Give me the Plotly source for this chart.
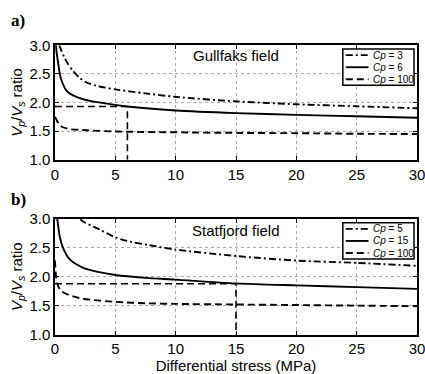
import plotly.graph_objects as go

# ---- Gullfaks field (panel a): Vp/Vs ratio versus differential stress ----
a_x_cp3 = [0.35, 0.5, 0.75, 1.0, 1.5, 2.0, 2.6, 3.5, 5.0, 7.5, 10, 15, 20, 25, 30]
a_y_cp3 = [3.00, 2.92, 2.80, 2.70, 2.55, 2.44, 2.35, 2.29, 2.23, 2.16, 2.10, 2.02, 1.97, 1.935, 1.90]

a_x_cp6 = [0.08, 0.15, 0.27, 0.4, 0.55, 0.95, 1.77, 3.1, 5.0, 6.0, 10, 15, 20, 25, 30]
a_y_cp6 = [3.00, 2.85, 2.68, 2.50, 2.38, 2.21, 2.10, 2.02, 1.96, 1.93, 1.86, 1.815, 1.785, 1.76, 1.735]

a_x_cp100 = [0.0, 0.1, 0.41, 1.09, 2.3, 5.0, 10, 15, 20, 25, 30]
a_y_cp100 = [1.75, 1.71, 1.60, 1.54, 1.52, 1.495, 1.48, 1.47, 1.465, 1.455, 1.45]

a_pick_stress = 6.0
a_pick_ratio = 1.93

# ---- Statfjord field (panel b) ----
b_x_cp5 = [2.1, 2.3, 3.67, 5.03, 6.38, 7.74, 10, 15, 20, 25, 30]
b_y_cp5 = [3.00, 2.96, 2.82, 2.68, 2.60, 2.55, 2.47, 2.36, 2.28, 2.24, 2.19]

b_x_cp15 = [0.19, 0.41, 0.68, 1.22, 2.3, 3.67, 5.0, 7.5, 10, 15, 20, 25, 30]
b_y_cp15 = [3.00, 2.68, 2.49, 2.30, 2.16, 2.08, 2.03, 1.98, 1.95, 1.885, 1.85, 1.82, 1.79]

b_x_cp100 = [0.0, 0.1, 0.3, 0.6, 1.2, 2.3, 5.0, 7.74, 10, 15, 20, 25, 30]
b_y_cp100 = [2.28, 1.98, 1.82, 1.74, 1.68, 1.62, 1.565, 1.54, 1.53, 1.52, 1.51, 1.50, 1.49]

b_pick_stress = 15.0
b_pick_ratio = 1.88

a_labels = ["<i>Cp</i> = 3", "<i>Cp</i> = 6", "<i>Cp</i> = 100"]
b_labels = ["<i>Cp</i> = 5", "<i>Cp</i> = 15", "<i>Cp</i> = 100"]

x_ticks = [0, 5, 10, 15, 20, 25, 30]
y_ticks = [1.0, 1.5, 2.0, 2.5, 3.0]

FONT = "Liberation Sans, Arial, sans-serif"
DASHDOT = "7px,3px,2px,3px"
DASH = "7px,4px"
LW = 1.9
STYLES = [DASHDOT, "solid", DASH]

W, H = 425, 374
L, R = 55, 4

fig = go.Figure()


def add_panel(xs, ys, labels, pick_x, pick_y, xa, ya):
    for x, y, name, dash in zip(xs, ys, labels, STYLES):
        fig.add_trace(go.Scatter(
            x=x, y=y, mode="lines", name=name, showlegend=False,
            line=dict(color="black", width=LW, dash=dash, shape="spline", smoothing=0.8),
            xaxis=xa, yaxis=ya,
        ))
    # picked stress / ratio guide lines
    fig.add_trace(go.Scatter(
        x=[0, pick_x, pick_x], y=[pick_y, pick_y, 1.0], mode="lines",
        line=dict(color="black", width=1.6, dash=DASH),
        xaxis=xa, yaxis=ya, showlegend=False, hoverinfo="skip",
    ))


add_panel([a_x_cp3, a_x_cp6, a_x_cp100], [a_y_cp3, a_y_cp6, a_y_cp100], a_labels,
          a_pick_stress, a_pick_ratio, "x", "y")
add_panel([b_x_cp5, b_x_cp15, b_x_cp100], [b_y_cp5, b_y_cp15, b_y_cp100], b_labels,
          b_pick_stress, b_pick_ratio, "x2", "y2")


def px_x(px):
    return (px - L) / (W - L - R)


def px_y(py):
    return 1 - py / H


def ydom(top, bottom):
    return [px_y(bottom), px_y(top)]


def add_key(labels, top, bottom):
    """Compact boxed key in the top-right corner of a panel."""
    fig.add_shape(type="rect", xref="paper", yref="paper",
                  x0=px_x(346), x1=px_x(418), y0=px_y(bottom), y1=px_y(top),
                  line=dict(color="black", width=1.5), fillcolor="white", layer="above")
    step = (bottom - top) / 3
    for i, (name, dash) in enumerate(zip(labels, STYLES)):
        yc = top + step * (i + 0.5)
        fig.add_shape(type="line", xref="paper", yref="paper",
                      x0=px_x(349), x1=px_x(372), y0=px_y(yc), y1=px_y(yc),
                      line=dict(color="black", width=LW, dash=dash), layer="above")
        fig.add_annotation(x=px_x(374), y=px_y(yc), xref="paper", yref="paper",
                           text=name, showarrow=False, xanchor="left", yanchor="middle",
                           font=dict(family=FONT, size=10, color="black"))


add_key(a_labels, 42, 80)
add_key(b_labels, 224, 262)

axis_common = dict(
    showline=True, linecolor="black", linewidth=1.5, mirror="ticks",
    ticks="inside", ticklen=4, tickcolor="black", tickwidth=1,
    showgrid=True, gridcolor="#a8a8a8", gridwidth=1, griddash="dot",
    zeroline=False, tickfont=dict(family=FONT, size=15, color="black"),
    ticklabeloverflow="allow",
)

ytitle = "<i>V<sub>p</sub></i>/<i>V<sub>s</sub></i> ratio"

fig.update_layout(
    width=W, height=H,
    margin=dict(l=L, r=R, t=0, b=0),
    paper_bgcolor="white", plot_bgcolor="white",
    font=dict(family=FONT, color="black"),
    showlegend=False,
    xaxis=dict(axis_common, range=[0, 30], tickvals=x_ticks, anchor="y"),
    yaxis=dict(axis_common, range=[1, 3], tickvals=y_ticks, tickformat=".1f",
               domain=ydom(38, 158), anchor="x",
               title=dict(text=ytitle, font=dict(family=FONT, size=15), standoff=3)),
    xaxis2=dict(axis_common, range=[0, 30], tickvals=x_ticks, anchor="y2",
                title=dict(text="Differential stress (MPa)", font=dict(family=FONT, size=15),
                           standoff=4)),
    yaxis2=dict(axis_common, range=[1, 3], tickvals=y_ticks, tickformat=".1f",
                domain=ydom(220, 341), anchor="x2",
                title=dict(text=ytitle, font=dict(family=FONT, size=15), standoff=3)),
)

fig.add_annotation(x=15, y=2.82, xref="x", yref="y", text="Gullfaks field",
                   showarrow=False, font=dict(family=FONT, size=15))
fig.add_annotation(x=15, y=2.80, xref="x2", yref="y2", text="Statfjord field",
                   showarrow=False, font=dict(family=FONT, size=15))

# panel letters
fig.add_annotation(x=px_x(8), y=px_y(12), xref="paper", yref="paper", text="<b>a)</b>",
                   showarrow=False, xanchor="left", yanchor="middle",
                   font=dict(family="Liberation Serif, Times New Roman, serif", size=17))
fig.add_annotation(x=px_x(8), y=px_y(200), xref="paper", yref="paper", text="<b>b)</b>",
                   showarrow=False, xanchor="left", yanchor="middle",
                   font=dict(family="Liberation Serif, Times New Roman, serif", size=17))

fig.write_html("out.html")
